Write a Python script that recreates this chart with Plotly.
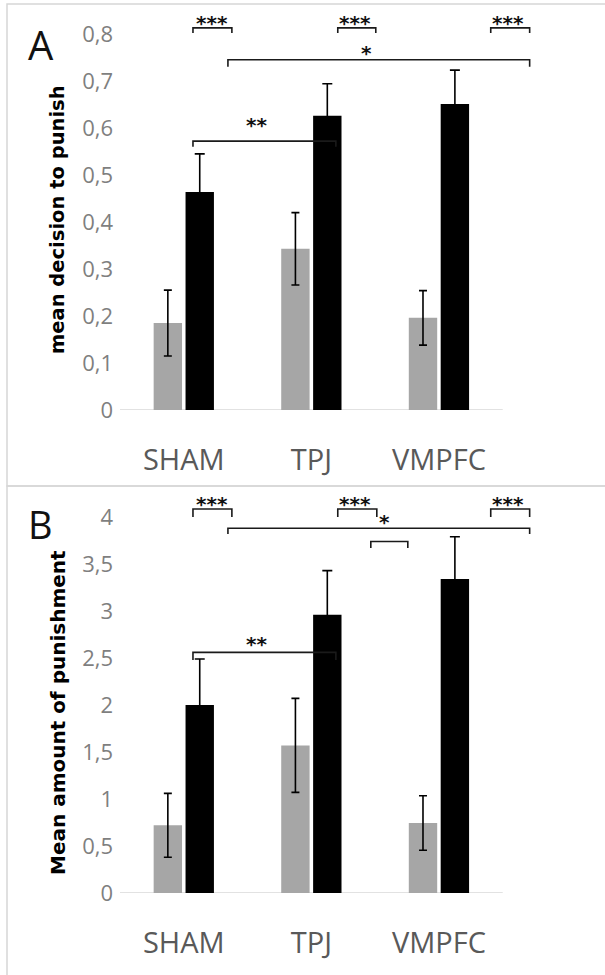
import plotly.graph_objects as go

# ---------------- data ----------------
groups = ["SHAM", "TPJ", "VMPFC"]

A_gray = [0.185, 0.343, 0.196]
A_gray_err = [0.070, 0.077, 0.058]
A_black = [0.464, 0.626, 0.651]
A_black_err = [0.081, 0.068, 0.072]

B_gray = [0.72, 1.57, 0.745]
B_gray_err = [0.34, 0.50, 0.29]
B_black = [2.00, 2.96, 3.34]
B_black_err = [0.49, 0.47, 0.45]

# significance brackets: (x_left, x_right, y_line, y_tick_end, label, label_x, label_y)
A_brackets = [
    (0.072, 0.377, 0.813, 0.802, "***", 0.22, 0.828),
    (1.207, 1.505, 0.813, 0.802, "***", 1.34, 0.828),
    (2.406, 2.711, 0.813, 0.802, "***", 2.54, 0.828),
    (0.346, 2.711, 0.745, 0.730, "*", 1.435, 0.764),
    (0.072, 1.192, 0.572, 0.560, "**", 0.573, 0.610),
]
B_brackets = [
    (0.072, 0.377, 4.085, 4.00, "***", 0.22, 4.16),
    (1.207, 1.513, 4.085, 4.00, "***", 1.34, 4.16),
    (2.406, 2.711, 4.085, 4.00, "***", 2.54, 4.16),
    (0.346, 2.711, 3.880, 3.82, "*", 1.576, 3.97),
    (1.466, 1.756, 3.740, 3.67, "", 1.61, 3.80),
    (0.072, 1.192, 2.560, 2.48, "**", 0.573, 2.67),
]

A_title = "mean decision to punish"
B_title = "Mean amount of punishment"

# ---------------- figure geometry ----------------
# positions below are given in reference-image pixels (605 x 975)
REF_W, REF_H = 605, 975
W, H = 605, 989


def fx(px):
    return px / REF_W


def fy(py):
    return 1 - py / REF_H


GRAY = "#a6a6a6"
pos = list(range(len(groups)))
fig = go.Figure()

panels = [
    (A_gray, A_gray_err, A_black, A_black_err, "x", "y", A_brackets),
    (B_gray, B_gray_err, B_black, B_black_err, "x2", "y2", B_brackets),
]

annotations = []
shapes = []
for g, ge, b, be, xa, ya, brackets in panels:
    fig.add_trace(go.Bar(
        x=pos, y=g, marker=dict(color=GRAY, line=dict(width=0)),
        error_y=dict(type="data", array=ge, color="#000000", thickness=1.6, width=4),
        xaxis=xa, yaxis=ya, showlegend=False, name="gray"))
    fig.add_trace(go.Bar(
        x=pos, y=b, marker=dict(color="#000000", line=dict(width=0)),
        error_y=dict(type="data", array=be, color="#000000", thickness=1.6, width=5),
        xaxis=xa, yaxis=ya, showlegend=False, name="black"))
    for x0, x1, yl, yt, lab, lx, ly in brackets:
        fig.add_trace(go.Scatter(
            x=[x0, x0, x1, x1], y=[yt, yl, yl, yt], mode="lines",
            line=dict(color="#1a1a1a", width=1.6), xaxis=xa, yaxis=ya,
            showlegend=False, hoverinfo="skip"))
        if lab:
            annotations.append(dict(
                x=lx, y=ly, xref=xa, yref=ya, text="<b>%s</b>" % lab,
                showarrow=False, yanchor="middle", yshift=-2,
                font=dict(family="DejaVu Sans", size=20, color="#111111")))
    # category baseline (spans the three categories only)
    shapes.append(dict(type="line", xref=xa, yref=ya, x0=-0.5, x1=len(groups) - 0.5,
                       y0=0, y1=0, line=dict(color="#d9d9d9", width=1.6), layer="below"))

xdom = [fx(120), fx(541)]

common_x = dict(
    range=[-0.5, 2.8], tickvals=pos, ticktext=groups, showgrid=False,
    zeroline=False, showline=False,
    ticks="", ticklabelstandoff=30,
    tickfont=dict(family="Open Sans", size=29, color="#595959"),
    fixedrange=True)
common_y = dict(
    showgrid=False, zeroline=False, showline=False, ticks="",
    tick0=0, ticklabelstandoff=6, fixedrange=True,
    tickfont=dict(family="Open Sans", size=22, color="#7f7f7f"))

fig.update_layout(
    width=W, height=H, margin=dict(l=0, r=0, t=0, b=0),
    paper_bgcolor="white", plot_bgcolor="rgba(0,0,0,0)",
    barmode="group", bargap=0.5, bargroupgap=0.11,
    separators=", ", hovermode=False,
    xaxis=dict(domain=xdom, anchor="y", **common_x),
    yaxis=dict(domain=[fy(410), fy(10)], range=[0, 0.851],
               dtick=0.1, anchor="x", **common_y),
    xaxis2=dict(domain=xdom, anchor="y2", **common_x),
    yaxis2=dict(domain=[fy(893), fy(492)], range=[0, 4.266],
                dtick=0.5, anchor="x2", **common_y),
)

# panel letters and axis titles
annotations += [
    dict(x=fx(26), y=fy(44), xref="paper", yref="paper", text="A",
         showarrow=False, xanchor="left", yanchor="middle",
         font=dict(family="Open Sans", size=40, color="#111111")),
    dict(x=fx(26), y=fy(524), xref="paper", yref="paper", text="B",
         showarrow=False, xanchor="left", yanchor="middle",
         font=dict(family="Open Sans", size=38, color="#111111")),
    dict(x=fx(58), y=fy(220), xref="paper", yref="paper",
         text="<b>%s</b>" % A_title, textangle=-90, showarrow=False,
         xanchor="center", yanchor="middle",
         font=dict(family="DejaVu Sans", size=19.5, color="#000000")),
    dict(x=fx(58), y=fy(713), xref="paper", yref="paper",
         text="<b>%s</b>" % B_title, textangle=-90, showarrow=False,
         xanchor="center", yanchor="middle",
         font=dict(family="DejaVu Sans", size=20.0, color="#000000")),
]

# panel frames
for top, bot in [(4, 486), (486, 995)]:
    shapes.append(dict(type="rect", xref="paper", yref="paper",
                       x0=fx(7), x1=1.02, y0=fy(bot), y1=fy(top),
                       line=dict(color="#d6d6d6", width=1.5), layer="below"))

fig.update_layout(annotations=annotations, shapes=shapes)

fig.write_html(
    "out.html",
    config={"displayModeBar": False, "staticPlot": True},
    post_script="document.body.style.margin='0';document.body.style.padding='0';"
                "document.documentElement.style.overflow='hidden';")
